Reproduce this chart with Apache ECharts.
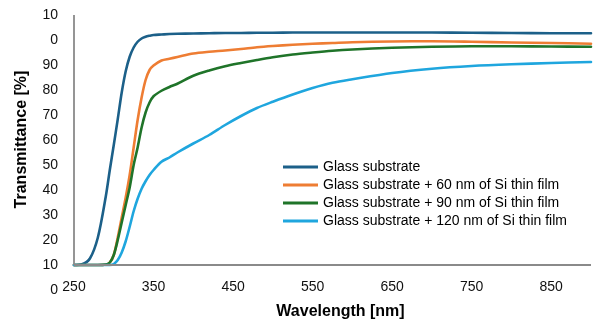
<!DOCTYPE html>
<html>
<head>
<meta charset="utf-8">
<script src="https://cdn.jsdelivr.net/npm/echarts@6/dist/echarts.min.js"></script>
<style>
  html, body { margin: 0; padding: 0; background: #fff; }
  #chart { width: 599px; height: 322px; }
</style>
</head>
<body>
<div id="chart"></div>
<script>
// Wavelength grid (nm) shared by all spectra
const wavelengths = [250, 260, 270, 280, 290, 295, 300, 305, 310, 315, 320, 325, 330, 335, 340, 345, 350, 360, 370, 380, 400, 420, 440, 460, 480, 500, 525, 550, 575, 600, 650, 700, 750, 800, 850, 900];

// Transmittance (%) of each sample
const glassOnly = [10, 10.3, 12.6, 21, 37.5, 48, 58, 68.3, 79, 87.5, 93.3, 97, 99.3, 100.6, 101.3, 101.7, 102, 102.2, 102.4, 102.5, 102.6, 102.7, 102.8, 102.8, 102.9, 102.9, 103, 103, 103, 103, 103, 103, 102.9, 102.8, 102.7, 102.7];
const si60nm = [10, 10, 10, 10, 10.2, 11, 14, 21, 29, 37, 46, 57, 68, 77, 84, 88, 89.8, 91.8, 92.5, 93.2, 94.6, 95.3, 95.8, 96.4, 97.1, 97.6, 98.1, 98.5, 98.8, 99.1, 99.4, 99.5, 99.3, 99, 98.8, 98.5];
const si90nm = [10, 10, 10, 10, 10.2, 11, 14, 20, 27, 34, 41, 50, 57, 65, 71, 75, 77.5, 79.7, 81.2, 82.5, 85.7, 87.8, 89.5, 90.8, 92, 93.1, 94.2, 95, 95.7, 96.2, 96.9, 97.3, 97.5, 97.5, 97.4, 97.3];
const si120nm = [10, 10, 10, 10, 10, 10, 10.4, 12, 15, 19.5, 25.3, 31.5, 36.5, 40.5, 43.5, 46, 48, 51.3, 53, 55, 58.6, 62, 66, 69.6, 72.8, 75.3, 78.2, 80.8, 82.9, 84.3, 86.8, 88.5, 89.6, 90.3, 90.8, 91.2];

const seriesNames = [
  'Glass substrate',
  'Glass substrate + 60 nm of Si thin film',
  'Glass substrate + 90 nm of Si thin film',
  'Glass substrate + 120 nm of Si thin film'
];
const seriesColors = ['#1c6089', '#ee7d33', '#1f7429', '#1fa6de'];

// Axis ticks and their printed labels
const xTickValues = [250, 350, 450, 550, 650, 750, 850];
const yTickLabels = ['0', '10', '20', '30', '40', '50', '60', '70', '80', '90', '0', '10'];

const FONT = '"Liberation Sans", Arial, sans-serif';
const AXIS_GRAY = '#8a8a8a';

function pairs(values) {
  return wavelengths.map((w, i) => [w, values[i]]);
}

const curves = [glassOnly, si60nm, si90nm, si120nm].map((vals, i) => ({
  name: seriesNames[i],
  type: 'line',
  data: pairs(vals),
  showSymbol: false,
  smooth: 0.3,
  z: 3,
  lineStyle: { width: 2.6, color: seriesColors[i], cap: 'round', join: 'round' },
  itemStyle: { color: seriesColors[i] }
}));

// Axis lines: the horizontal axis crosses the vertical one at 10 %
const axisFrame = {
  name: 'axes',
  type: 'line',
  data: [],
  z: 1,
  silent: true,
  markLine: {
    silent: true,
    symbol: 'none',
    animation: false,
    label: { show: false },
    lineStyle: { color: AXIS_GRAY, width: 1.8, type: 'solid' },
    data: [
      [{ coord: [250, 10] }, { coord: [900, 10] }],
      [{ coord: [250, 10] }, { coord: [250, 110] }]
    ]
  }
};

const chart = echarts.init(document.getElementById('chart'), null, { renderer: 'canvas' });
chart.setOption({
  animation: false,
  backgroundColor: '#ffffff',
  grid: { left: 74, right: 8, top: 15, bottom: 32, containLabel: false, outerBoundsMode: 'none' },
  legend: {
    orient: 'vertical',
    left: 278,
    top: 154,
    data: seriesNames,
    icon: 'rect',
    itemWidth: 35,
    itemHeight: 3,
    itemGap: 2,
    textStyle: { fontFamily: FONT, fontSize: 14, color: '#000', lineHeight: 16 }
  },
  xAxis: {
    type: 'value',
    min: 250,
    max: 900,
    name: 'Wavelength [nm]',
    nameLocation: 'middle',
    nameGap: 14,
    nameTextStyle: { fontFamily: FONT, fontSize: 16, fontWeight: 'bold', color: '#000', padding: [0, 0, 0, 16] },
    axisLine: { show: false },
    axisTick: { show: false },
    splitLine: { show: false },
    axisLabel: {
      customValues: xTickValues,
      margin: -10,
      fontFamily: FONT,
      fontSize: 14,
      color: '#111'
    }
  },
  yAxis: {
    type: 'value',
    min: 0,
    max: 110,
    interval: 10,
    name: 'Transmittance [%]',
    nameLocation: 'middle',
    nameGap: 44,
    nameRotate: 90,
    nameTextStyle: { fontFamily: FONT, fontSize: 16, fontWeight: 'bold', color: '#000', padding: [0, 0, 0, 26] },
    axisLine: { show: false },
    axisTick: { show: false },
    splitLine: { show: false },
    axisLabel: {
      margin: 16,
      fontFamily: FONT,
      fontSize: 14,
      color: '#111',
      formatter: v => yTickLabels[Math.round(v / 10)]
    }
  },
  series: [axisFrame].concat(curves)
});
</script>
</body>
</html>
